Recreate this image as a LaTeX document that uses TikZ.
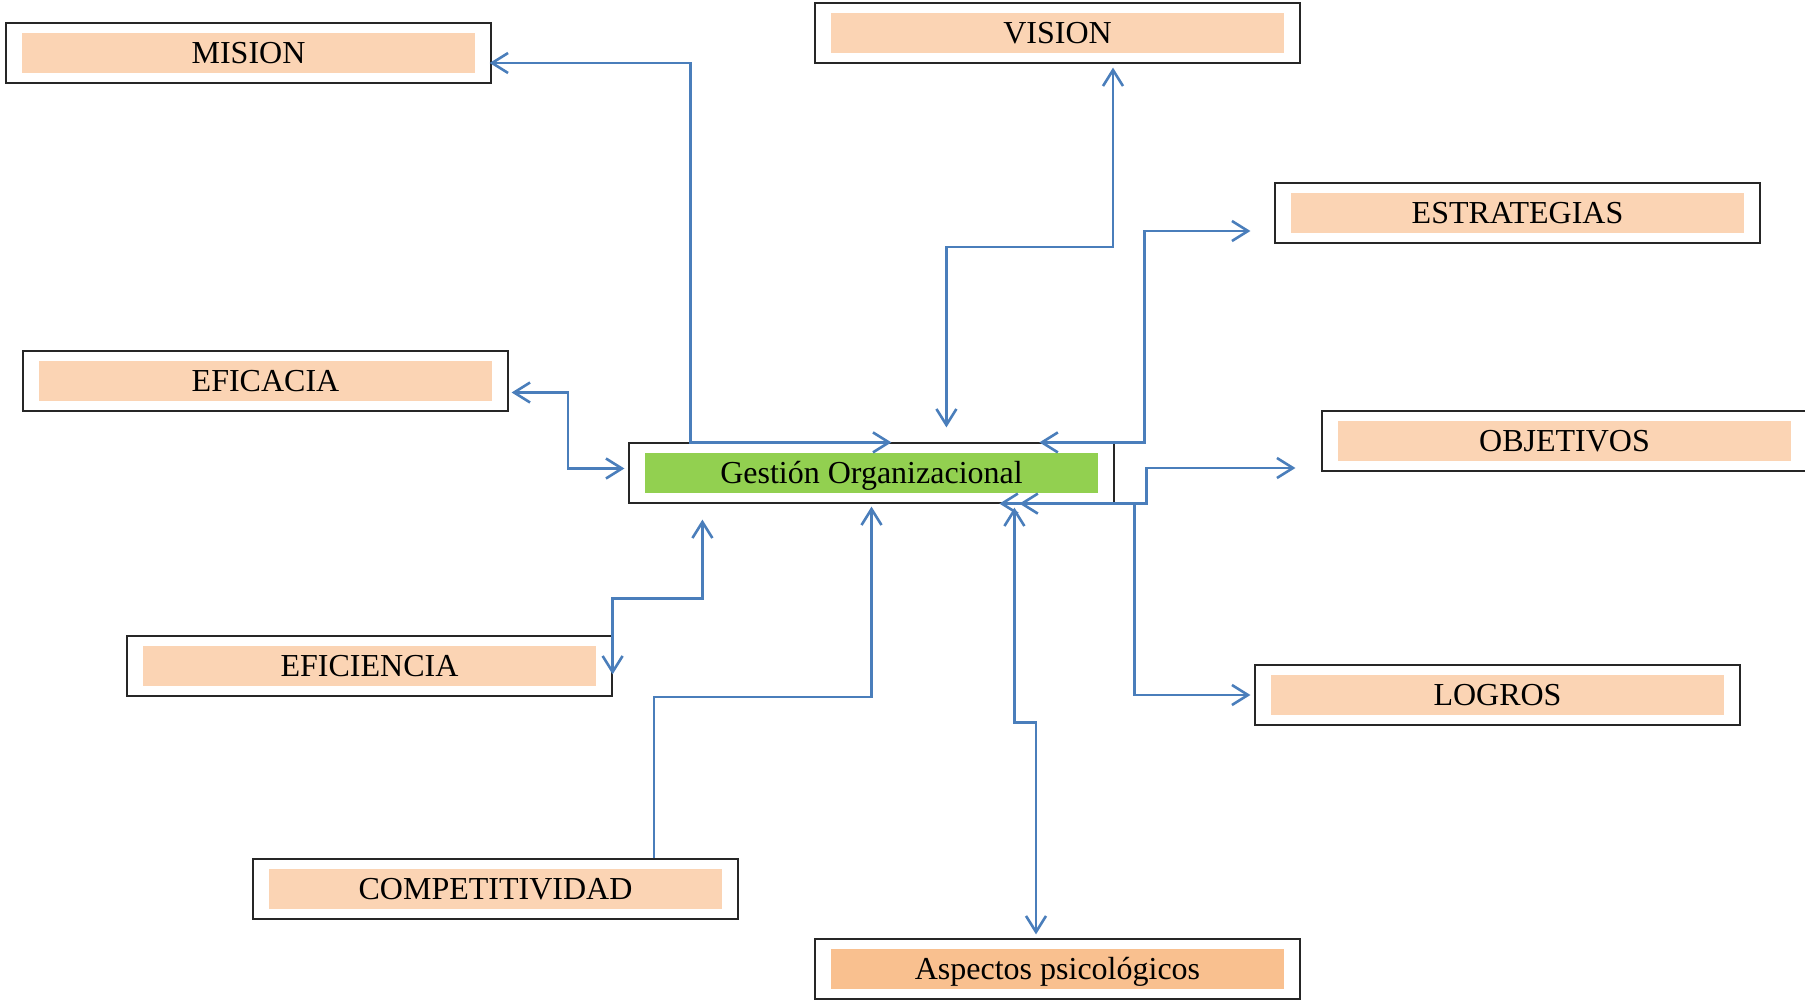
\documentclass[tikz,border=0pt]{standalone}
\usepackage{fontspec}
\setmainfont{Liberation Serif}
\usetikzlibrary{arrows.meta,calc}

\definecolor{boxline}{HTML}{262626}
\definecolor{peach}{HTML}{FBD4B4}
\definecolor{peachdark}{HTML}{F9C08F}
\definecolor{leafgreen}{HTML}{92D050}
\definecolor{linkblue}{HTML}{4A7EBB}

\tikzset{
  % framed label: thin outer frame with an inset coloured band
  labelbox/.style={
    draw=boxline, line width=0.6pt,
    minimum width=242.5pt, minimum height=30pt, inner sep=0pt,
    text height=10.6pt, text depth=0pt,
    font=\fontsize{16pt}{19pt}\selectfont,
    path picture={\fill[#1]
      ([shift={(8pt,-5pt)}]path picture bounding box.north west) rectangle
      ([shift={(-8pt,5pt)}]path picture bounding box.south east);}
  },
  conn/.style={draw=linkblue, line width=1.3pt,
    arrows={Straight Barb[length=8pt,width=10pt]-Straight Barb[length=8pt,width=10pt]}},
  connend/.style={draw=linkblue, line width=1.3pt,
    arrows={-Straight Barb[length=8pt,width=10pt]}}
}

\begin{document}
\begin{tikzpicture}[x=0.5pt,y=-0.5pt]
\useasboundingbox (0,0) rectangle (1805,1000);

% boxes
\node[labelbox=peach] (mision)  at (248.5,53)  {MISION};
\node[labelbox=peach] (vision)  at (1057.5,33) {VISION};
\node[labelbox=peach] (estr)    at (1517.5,213) {ESTRATEGIAS};
\node[labelbox=peach] (efic)    at (265.5,381) {EFICACIA};
\node[labelbox=leafgreen] (gest) at (871.5,473) {Gestión Organizacional};
\node[labelbox=peach] (obj)     at (1564.5,441) {OBJETIVOS};
\node[labelbox=peach] (eficien) at (369.5,666) {EFICIENCIA};
\node[labelbox=peach] (logros)  at (1497.5,695) {LOGROS};
\node[labelbox=peach] (comp)    at (495.5,889) {COMPETITIVIDAD};
\node[labelbox=peachdark] (asp) at (1057.5,969) {Aspectos psicológicos};

% connectors
\draw[conn] ($(mision.east)+(-2,10)$) -| ($(gest.north west)+(62,0)$)
            -- ($(gest.north west)+(263,0)$);
\draw[conn] ($(gest.north west)+(318,-15)$) -- ++(0,-180.5)
            -| ($(vision.south)+(55.5,4)$);
\draw[conn] ($(gest.north west)+(411,0)$) -- ++(105,0)
            |- ($(estr.west)+(-24,18)$);
\draw[conn] ($(efic.east)+(3,11.5)$) -- ++(56.5,0)
            |- ($(gest.west)+(-4,-4.5)$);
\draw[conn] ($(gest.south west)+(371,0)$) -- ++(147,0)
            |- ($(obj.west)+(-26,27)$);
\draw[conn] ($(gest.south west)+(391,0)$) -- ++(115,0)
            |- ($(logros.west)+(-4,0)$);
\draw[conn] ($(gest.south west)+(386,4)$) -- ++(0,215)
            -| ($(asp.north)+(-21.5,-4)$);
\draw[connend] ($(comp.north)+(158.5,0)$) -- ++(0,-161.5)
            -| ($(gest.south)+(0,3)$);
\draw[conn] ($(gest.south west)+(74,16)$) -- ++(0,79)
            -| ($(eficien.north east)+(0,39)$);
\end{tikzpicture}
\end{document}
